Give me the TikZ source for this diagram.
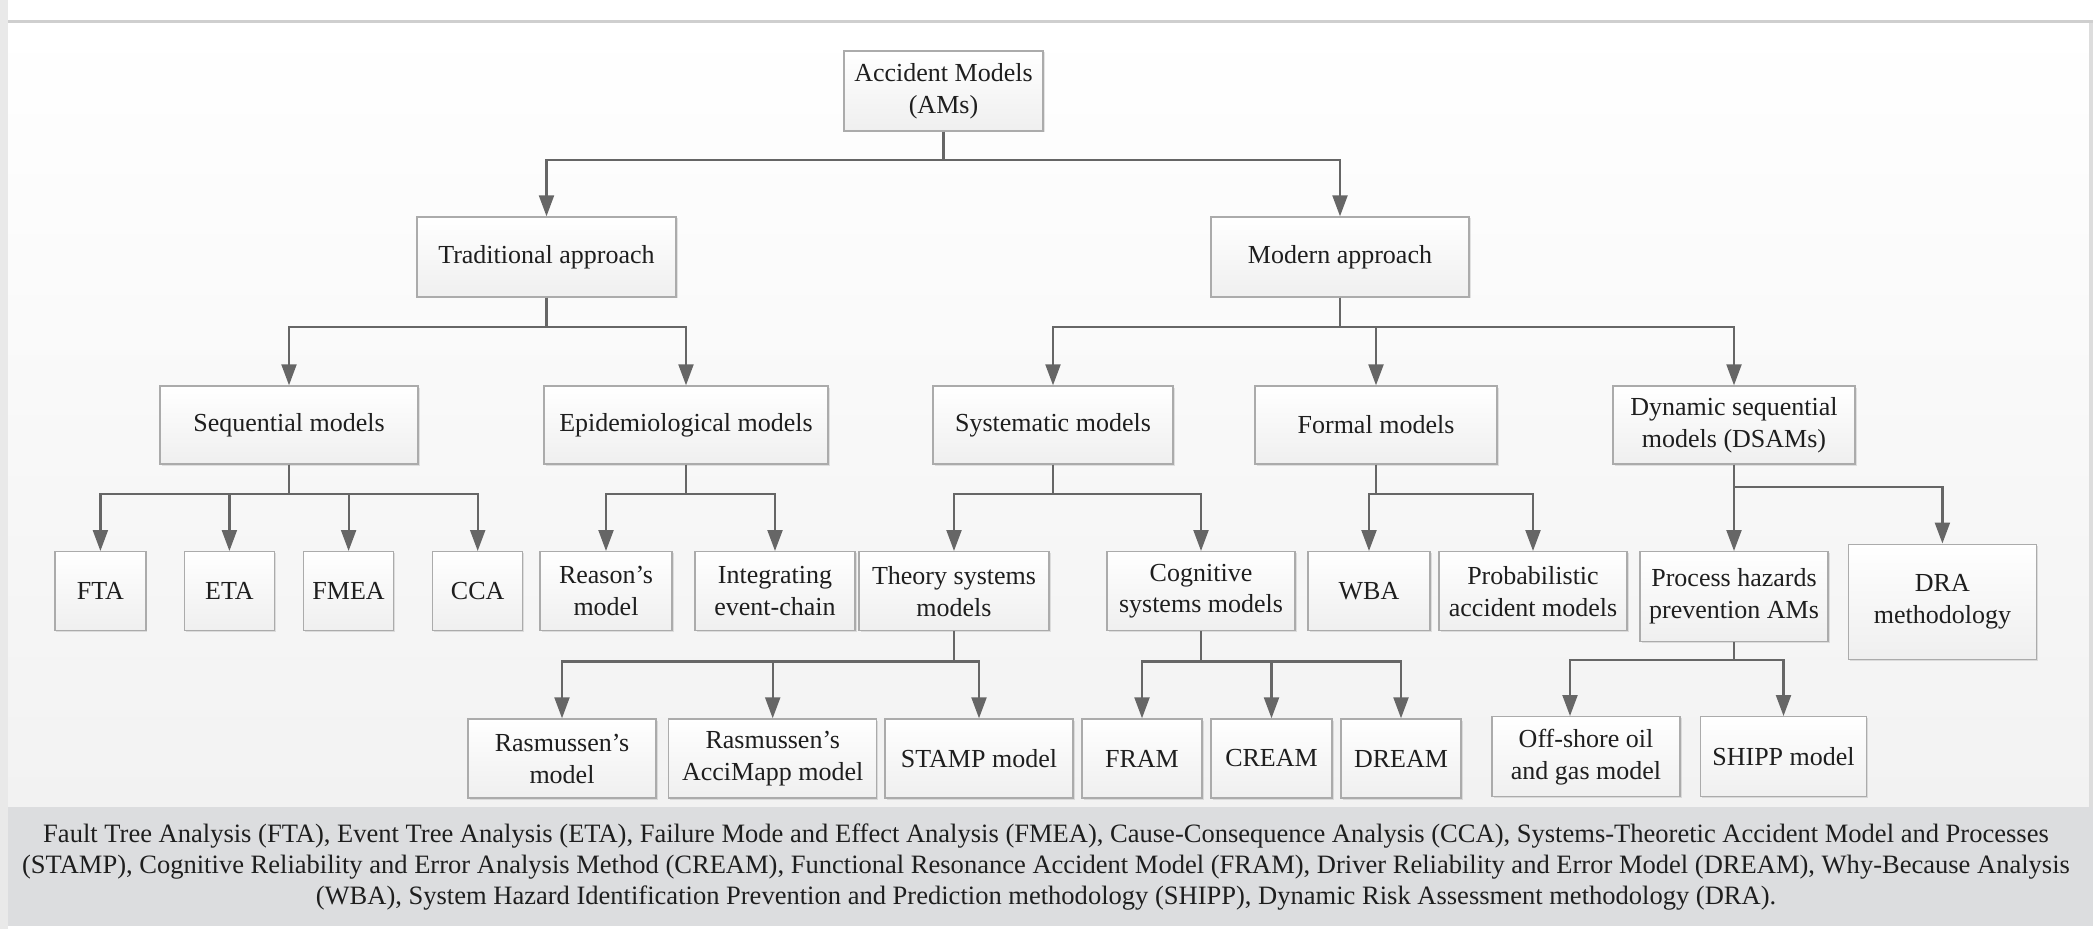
\documentclass[tikz,border=0pt]{standalone}
\usepackage{fontspec}
\setmainfont{Liberation Serif}
\usetikzlibrary{arrows.meta,calc,shadows}
\newcommand\unitpx{0.02cm}
\definecolor{linegray}{HTML}{666666}
\definecolor{boxedge}{HTML}{ABABAB}
\definecolor{boxbottom}{HTML}{EFEFEF}
\definecolor{textdark}{HTML}{1E1E1E}
\definecolor{stripgray}{HTML}{E9E9E9}
\definecolor{rulegray}{HTML}{CFCFCF}
\definecolor{bandgray}{HTML}{DCDDDF}
\definecolor{areabottom}{HTML}{F2F2F2}
\begin{document}
\begin{tikzpicture}[x=0.02cm,y=-0.02cm,
  box/.style={draw=boxedge, line width=1.4*\unitpx, top color=white, bottom color=boxbottom,
    inner sep=0pt, align=center, text=textdark,
    font=\fontsize{14.8}{18.2}\selectfont,
    drop shadow={shadow xshift=1.5*\unitpx, shadow yshift=-1.5*\unitpx, fill=black, opacity=0.10}},
  conn/.style={draw=linegray, line width=2.2*\unitpx,
    -{Triangle[width=0.3cm,length=0.42cm]}}]
\useasboundingbox (0,0) rectangle (2093,929);
% page and frame
\fill[white] (0,0) rectangle (2093,929);
\shade[top color=white, bottom color=areabottom] (8,23) rectangle (2090,807);
\fill[stripgray] (0,0) rectangle (8,929);
\fill[rulegray] (8,20.5) rectangle (2093,23.5);
\fill[rulegray!70] (2089,23) rectangle (2093,807);
\fill[bandgray] (8,807) rectangle (2093,926);

% level 0
\node[box, minimum width=199*\unitpx, minimum height=80*\unitpx] (am) at (943.5,91) {Accident Models\\(AMs)};
% level 1
\node[box, minimum width=259*\unitpx, minimum height=80*\unitpx] (trad) at (546.5,257) {Traditional approach};
\node[box, minimum width=258*\unitpx, minimum height=80*\unitpx] (modern) at (1340,257) {Modern approach};
% level 2
\node[box, minimum width=258*\unitpx, minimum height=78*\unitpx] (seq) at (289,425) {Sequential models};
\node[box, minimum width=284*\unitpx, minimum height=78*\unitpx] (epi) at (686,425) {Epidemiological models};
\node[box, minimum width=240*\unitpx, minimum height=78*\unitpx] (sys) at (1053,425) {Systematic models};
\node[box, minimum width=242*\unitpx, minimum height=78*\unitpx] (formal) at (1376,425) {Formal models};
\node[box, minimum width=242*\unitpx, minimum height=78*\unitpx] (dsam) at (1734,425) {Dynamic sequential\\models (DSAMs)};
% level 3
\node[box, minimum width=91*\unitpx, minimum height=79*\unitpx] (fta) at (100.4,591.2) {FTA};
\node[box, minimum width=90*\unitpx, minimum height=79*\unitpx] (eta) at (229.4,591.2) {ETA};
\node[box, minimum width=90*\unitpx, minimum height=79*\unitpx] (fmea) at (348.6,591.2) {FMEA};
\node[box, minimum width=90*\unitpx, minimum height=79*\unitpx] (cca) at (477.7,591.2) {CCA};
\node[box, minimum width=132*\unitpx, minimum height=79*\unitpx] (reason) at (606,591.2) {Reason’s\\model};
\node[box, minimum width=160*\unitpx, minimum height=79*\unitpx] (integ) at (775,591.2) {Integrating\\event-chain};
\node[box, minimum width=190*\unitpx, minimum height=79*\unitpx] (theory) at (954,591.2) {Theory systems\\models};
\node[box, minimum width=188*\unitpx, minimum height=79*\unitpx] (cog) at (1201,591.2) {Cognitive\\systems models};
\node[box, minimum width=122*\unitpx, minimum height=79*\unitpx] (wba) at (1369,591.2) {WBA};
\node[box, minimum width=188*\unitpx, minimum height=79*\unitpx] (prob) at (1533,591.2) {Probabilistic\\accident models};
\node[box, minimum width=188*\unitpx, minimum height=90*\unitpx] (proc) at (1734,596.7) {Process hazards\\prevention AMs};
\node[box, minimum width=188*\unitpx, minimum height=115*\unitpx] (dra) at (1942.4,601.7) {DRA\\methodology};
% level 4
\node[box, minimum width=188*\unitpx, minimum height=79*\unitpx] (ras) at (562,758.5) {Rasmussen’s\\model};
\node[box, minimum width=208*\unitpx, minimum height=79*\unitpx] (acci) at (772.7,758.5) {Rasmussen’s\\AcciMapp model};
\node[box, minimum width=188*\unitpx, minimum height=79*\unitpx] (stamp) at (979,758.5) {STAMP model};
\node[box, minimum width=120*\unitpx, minimum height=79*\unitpx] (fram) at (1142,758.5) {FRAM};
\node[box, minimum width=121*\unitpx, minimum height=79*\unitpx] (cream) at (1271.5,758.5) {CREAM};
\node[box, minimum width=120*\unitpx, minimum height=79*\unitpx] (dream) at (1401,758.5) {DREAM};
\node[box, minimum width=188*\unitpx, minimum height=80*\unitpx] (off) at (1586,756.7) {Off-shore oil\\and gas model};
\node[box, minimum width=166*\unitpx, minimum height=80*\unitpx] (shipp) at (1783.5,756.7) {SHIPP model};

% connectors
\draw[conn] (am.south) -- ++(0,28) -| (trad.north);
\draw[conn] (am.south) -- ++(0,28) -| (modern.north);
\draw[conn] (trad.south) -- ++(0,29) -| (seq.north);
\draw[conn] (trad.south) -- ++(0,29) -| (epi.north);
\draw[conn] (modern.south) -- ++(0,29) -| (sys.north);
\draw[conn] (modern.south) -- ++(0,29) -| (formal.north);
\draw[conn] (modern.south) -- ++(0,29) -| (dsam.north);
\foreach \c in {fta,eta,fmea,cca} \draw[conn] (seq.south) -- ++(0,29) -| (\c.north);
\foreach \c in {reason,integ} \draw[conn] (epi.south) -- ++(0,29) -| (\c.north);
\foreach \c in {theory,cog} \draw[conn] (sys.south) -- ++(0,29) -| (\c.north);
\foreach \c in {wba,prob} \draw[conn] (formal.south) -- ++(0,29) -| (\c.north);
\foreach \c in {proc,dra} \draw[conn] (dsam.south) -- ++(0,22) -| (\c.north);
\foreach \c in {ras,acci,stamp} \draw[conn] (theory.south) -- ++(0,30) -| (\c.north);
\foreach \c in {fram,cream,dream} \draw[conn] (cog.south) -- ++(0,30) -| (\c.north);
\draw[conn] (proc.south) -- ++(0,17.6) -| ($(off.north)+(-16,0)$);
\draw[conn] (proc.south) -- ++(0,17.6) -| (shipp.north);

% abbreviations
\node[inner sep=0pt, align=center, text=textdark, font=\fontsize{15.1}{17.9}\selectfont] (abbr) at (1046,867)
 {Fault Tree Analysis (FTA), Event Tree Analysis (ETA), Failure Mode and Effect Analysis (FMEA), Cause-Consequence Analysis (CCA), Systems-Theoretic Accident Model and Processes\\
 (STAMP), Cognitive Reliability and Error Analysis Method (CREAM), Functional Resonance Accident Model (FRAM), Driver Reliability and Error Model (DREAM), Why-Because Analysis\\
 (WBA), System Hazard Identification Prevention and Prediction methodology (SHIPP), Dynamic Risk Assessment methodology (DRA).};
\end{tikzpicture}
\end{document}
